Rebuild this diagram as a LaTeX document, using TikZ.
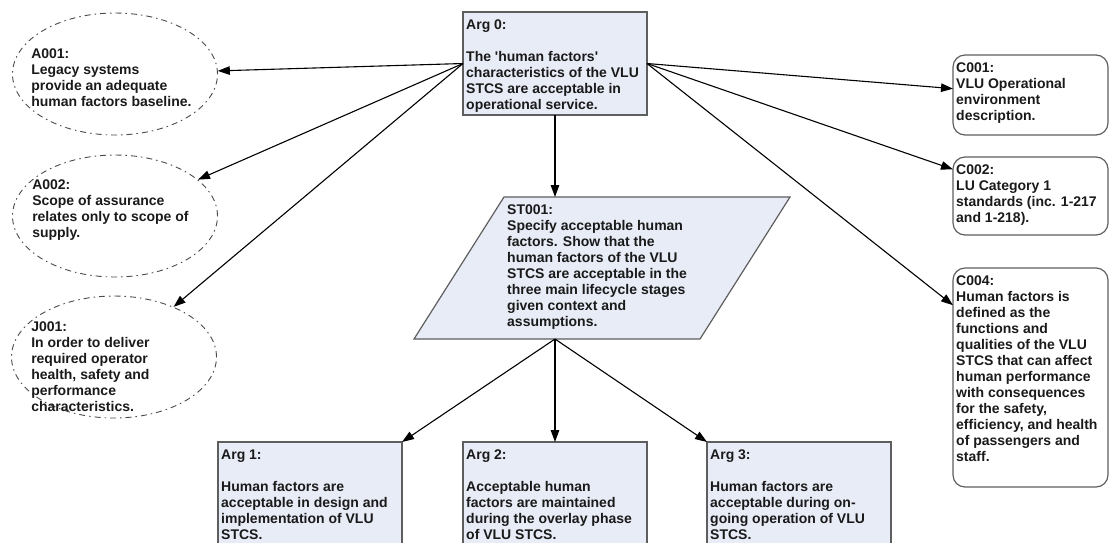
\documentclass[tikz,border=0pt]{standalone}
\usepackage{fontspec}
\setmainfont{Liberation Sans}
\usepackage{tikz}
\usetikzlibrary{calc,shapes.geometric,arrows.meta}

\definecolor{boxfill}{HTML}{E8ECF6}
\definecolor{boxgray}{HTML}{5E5E5E}
\definecolor{dashgray}{HTML}{4A4A4A}
\definecolor{textdark}{HTML}{1A1A1A}

\begin{document}
\begin{tikzpicture}[x=1pt,y=-1pt,
	gsnbox/.style={draw=boxgray,fill=boxfill,line width=1.2pt,inner sep=0pt,outer sep=0pt,
		anchor=north west,minimum width=184pt},
	gsntext/.style={align=left,anchor=north west,inner sep=3pt,yshift=-5pt,text=textdark,
		font=\fontsize{14}{16}\selectfont\bfseries},
	assume/.style={ellipse,draw=dashgray,line width=0.9pt,
		dash pattern=on 6pt off 4pt on 1.5pt off 4pt,
		minimum width=205pt,minimum height=122pt,inner sep=0pt},
	ctx/.style={draw=boxgray,fill=white,rounded corners=12pt,line width=1.2pt,
		inner sep=0pt,outer sep=0pt,anchor=north west,minimum width=155pt},
	link/.style={-{Triangle[length=12pt,width=8.5pt]},line width=1.1pt}]
	\newcommand{\stSlant}{90}
	\newcommand{\stHeight}{142}

	\clip (0,0) rectangle (1110,542);
	\fill[white] (0,0) rectangle (1110,542);

	% top goal
	\node[gsnbox,minimum height=103pt] (arg0) at (463,12) {};
	\node[gsntext] (arg0txt) at (arg0.north west)
		{Arg 0:\\ ~\\The \textquotesingle human factors\textquotesingle\\characteristics of the VLU\\STCS are acceptable in\\operational service.};

	% assumptions and justification
	\node[assume] (a001) at (115,74) {};
	\node[gsntext,anchor=west] (a001txt) at ($(a001.west)+(16,-1)$)
		{A001:\\Legacy systems\\provide an adequate\\human factors baseline.};
	\node[assume] (a002) at (115,216) {};
	\node[gsntext,anchor=west] (a002txt) at ($(a002.west)+(17,-11)$)
		{A002:\\Scope of assurance\\relates only to scope of\\supply.};
	\node[assume] (j001) at (114,357) {};
	\node[gsntext,anchor=west] (j001txt) at ($(j001.west)+(17,5)$)
		{J001:\\In order to deliver\\required operator\\health, safety and\\performance\\characteristics.};

	% context
	\node[ctx,minimum height=80pt] (c001) at (953,55) {};
	\node[gsntext] (c001txt) at (c001.north west)
		{C001:\\VLU Operational\\environment\\description.};
	\node[ctx,minimum height=78pt] (c002) at (953,157) {};
	\node[gsntext] (c002txt) at (c002.north west)
		{C002:\\LU Category 1\\standards (inc. 1-217\\and 1-218).};
	\node[ctx,minimum height=219pt] (c004) at (953,268) {};
	\node[gsntext] (c004txt) at (c004.north west)
		{C004:\\Human factors is\\defined as the\\functions and\\qualities of the VLU\\STCS that can affect\\human performance\\with consequences\\for the safety,\\efficiency, and health\\of passengers and\\staff.};

	% strategy
	\coordinate (st_top_left) at (504,197);
	\coordinate (st_top_right) at (790,197);
	\coordinate (st_bottom_right) at ($(st_top_right)+(-\stSlant,\stHeight)$);
	\coordinate (st_bottom_left) at ($(st_top_left)+(-\stSlant,\stHeight)$);
	\filldraw[draw=boxgray,fill=boxfill,line width=1.2pt,line join=miter]
		(st_top_left) -- (st_top_right) -- (st_bottom_right) -- (st_bottom_left) -- cycle;
	\node[gsntext] (st001) at (st_top_left)
		{ST001:\\Specify acceptable human\\factors. Show that the\\human factors of the VLU\\STCS are acceptable in the\\three main lifecycle stages\\given context and\\assumptions.};
	\coordinate (st_in) at (arg0.south |- st_top_left);
	\coordinate (st_out) at (arg0.south |- st_bottom_left);

	% sub goals
	\node[gsnbox,minimum height=130pt] (arg1) at (218,442) {};
	\node[gsntext] (arg1txt) at (arg1.north west)
		{Arg 1:\\ ~\\Human factors are\\acceptable in design and\\implementation of VLU\\STCS.};
	\node[gsnbox,minimum height=130pt] (arg2) at (463,442) {};
	\node[gsntext] (arg2txt) at (arg2.north west)
		{Arg 2:\\ ~\\Acceptable human\\factors are maintained\\during the overlay phase\\of VLU STCS.};
	\node[gsnbox,minimum height=130pt] (arg3) at (707,442) {};
	\node[gsntext] (arg3txt) at (arg3.north west)
		{Arg 3:\\ ~\\Human factors are\\acceptable during on-\\going operation of VLU\\STCS.};

	% links
	\draw[link] (arg0.west) -- (a001);
	\draw[link] (arg0.west) -- (a002);
	\draw[link] (arg0.west) -- (j001);
	\draw[link] (arg0.east) -- (c001);
	\draw[link] (arg0.east) -- (c002);
	\draw[link] (arg0.east) -- ($(c004.north west)!0.17!(c004.south west)$);
	\draw[link] (arg0.south) -- (st_in);
	\draw[link] (st_out) -- (arg1.north east);
	\draw[link] (st_out) -- (arg2.north);
	\draw[link] (st_out) -- (arg3.north west);
\end{tikzpicture}
\end{document}
